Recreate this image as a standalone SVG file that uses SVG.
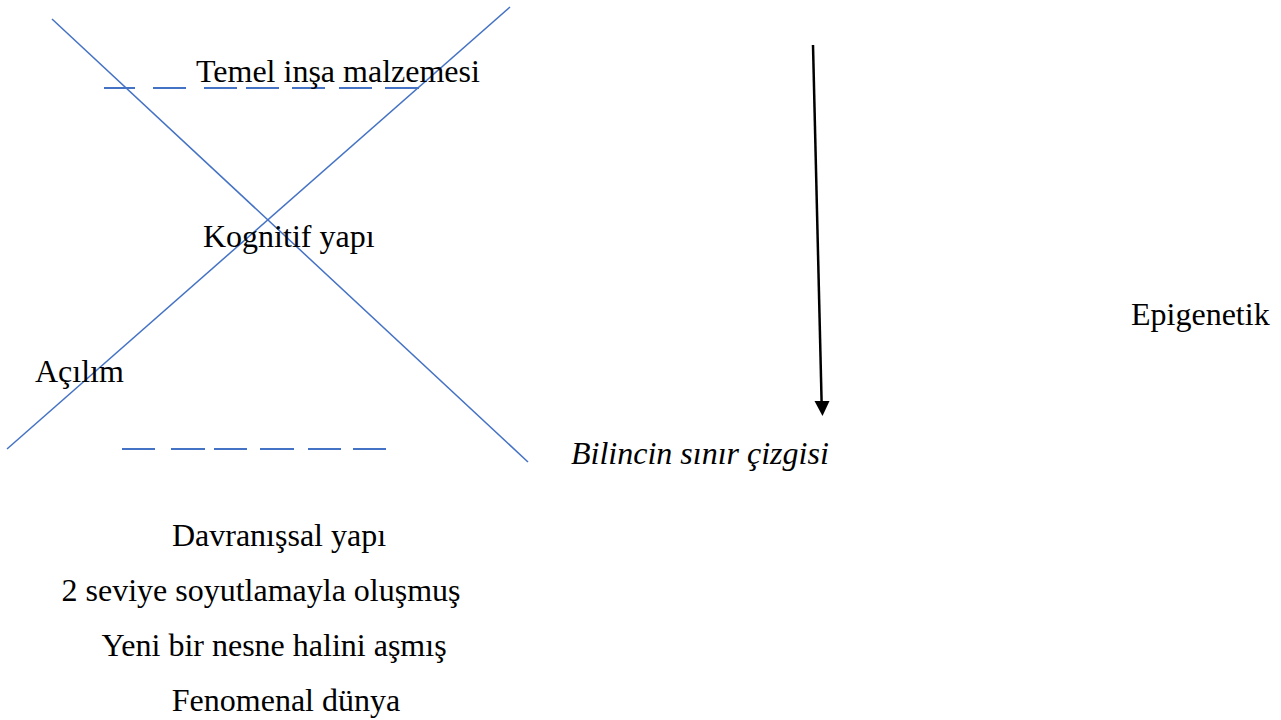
<svg xmlns="http://www.w3.org/2000/svg" width="1281" height="720" viewBox="0 0 1281 720">
<style>
text{font-family:"Liberation Serif","Times New Roman",serif;font-size:32px;fill:#000}
.blue{stroke:#4472C4;stroke-width:1.5;fill:none}
.dash{stroke:#4472C4;stroke-width:2;fill:none}
</style>
<rect width="1281" height="720" fill="#fff"/>
<g id="connectors">
<line class="blue" x1="52" y1="19" x2="528" y2="462"/>
<line class="blue" x1="510" y1="7" x2="7" y2="449"/>
<g class="dash">
<line x1="104" y1="88" x2="135" y2="88"/>
<line x1="153" y1="88" x2="186" y2="88"/>
<line x1="204" y1="88" x2="237" y2="88"/>
<line x1="246" y1="88" x2="279" y2="88"/>
<line x1="292" y1="88" x2="325" y2="88"/>
<line x1="339" y1="88" x2="372" y2="88"/>
<line x1="385" y1="88" x2="419" y2="88"/>
<line x1="122" y1="449" x2="155" y2="449"/>
<line x1="171" y1="449" x2="205" y2="449"/>
<line x1="214" y1="449" x2="247" y2="449"/>
<line x1="260" y1="449" x2="294" y2="449"/>
<line x1="308" y1="449" x2="341" y2="449"/>
<line x1="353" y1="449" x2="386" y2="449"/>
</g>
<line x1="813" y1="45" x2="821.6" y2="402" stroke="#000" stroke-width="2.5"/>
<polygon points="814.5,401 829.5,401 822.5,416" fill="#000"/>
</g>
<g id="labels">
<text x="196" y="82">Temel inşa malzemesi</text>
<text x="203" y="247">Kognitif yapı</text>
<text x="1131" y="325">Epigenetik</text>
<text x="35" y="382">Açılım</text>
<text x="571" y="464" font-style="italic">Bilincin sınır çizgisi</text>
<text x="279" y="546" text-anchor="middle">Davranışsal yapı</text>
<text x="261" y="601" text-anchor="middle">2 seviye soyutlamayla oluşmuş</text>
<text x="274" y="656" text-anchor="middle">Yeni bir nesne halini aşmış</text>
<text x="286" y="711" text-anchor="middle">Fenomenal dünya</text>
</g>
</svg>
